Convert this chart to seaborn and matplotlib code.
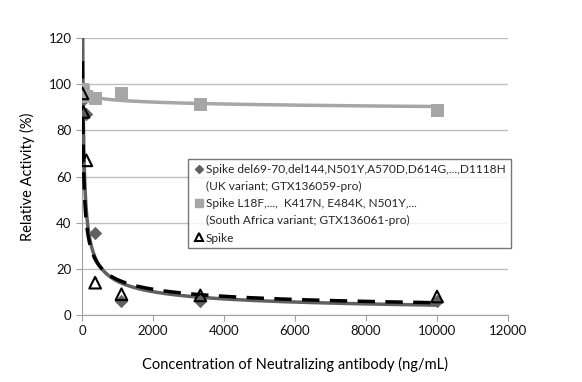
import numpy as np
import pandas as pd
import matplotlib
matplotlib.use("Agg")
import matplotlib.pyplot as plt
from matplotlib.lines import Line2D
import seaborn as sns

sns.set_style("white")
plt.rcParams['font.family'] = ['Lato', 'DejaVu Sans']

# concentrations (3-fold dilution series, ng/mL)
conc = [10000, 3333, 1111, 370, 123, 41, 13.7]

# relative activity (%)
uk_act = [6, 6, 6, 35.5, 87, 93, 96]
sa_act = [88.8, 91.4, 96.2, 94, 95, 97, 98]
spike_act = [8, 8.5, 9, 14, 67, 88, 96]

uk_label = ["Spike del69-70,del144,N501Y,A570D,D614G,...,D1118H",
            "(UK variant; GTX136059-pro)"]
sa_label = ["Spike L18F,...,  K417N, E484K, N501Y,...",
            "(South Africa variant; GTX136061-pro)"]
spike_label = ["Spike"]

uk_col = "#606060"
sa_col = "#a6a6a6"


def power_trend(x, y):
    # Excel-style power trendline: fit in log-log space
    b, ln_a = np.polyfit(np.log(x), np.log(y), 1)
    xs = np.geomspace(min(x), max(x), 400)
    return pd.DataFrame({"x": xs, "y": np.exp(ln_a) * xs ** b})


fig = plt.figure(figsize=(5.82, 3.82), dpi=100)
ax = fig.add_axes([0.1409, 0.1754, 0.7320, 0.7251])

uk_fit = power_trend(conc, uk_act)
sa_fit = power_trend(conc, sa_act)
spike_fit = power_trend(conc, spike_act)

sns.lineplot(data=sa_fit, x="x", y="y", ax=ax, color=sa_col, lw=2.5, zorder=2)
sns.lineplot(data=uk_fit, x="x", y="y", ax=ax, color=uk_col, lw=2.5, zorder=3)
sns.lineplot(data=spike_fit, x="x", y="y", ax=ax, color="black", lw=2.5,
             dashes=False, zorder=4).lines[-1].set_dashes([5, 3])

sns.scatterplot(x=conc, y=uk_act, ax=ax, marker="D", s=40, color=uk_col,
                edgecolor=uk_col, zorder=5, legend=False)
sns.scatterplot(x=conc, y=sa_act, ax=ax, marker="s", s=75, color=sa_col,
                edgecolor=sa_col, zorder=5, legend=False)
sns.scatterplot(x=conc, y=spike_act, ax=ax, marker="^", s=70, facecolor="none",
                edgecolor="black", linewidth=1.5, zorder=6, legend=False)

ax.set_xlim(0, 12000)
ax.set_ylim(0, 120)
ax.set_xticks(range(0, 12001, 2000))
ax.set_yticks(range(0, 121, 20))
ax.yaxis.grid(True, color="#bfbfbf", lw=1)
ax.set_axisbelow(True)
for s in ["top", "right"]:
    ax.spines[s].set_visible(False)
for s in ["left", "bottom"]:
    ax.spines[s].set_color("#a0a0a0")
ax.tick_params(axis="both", direction="out", length=4, color="#a0a0a0",
               labelsize=9.5, labelcolor="#111111")
ax.tick_params(axis="both", which="both", left=True, bottom=True)

ax.set_xlabel("Concentration of Neutralizing antibody (ng/mL)", fontsize=10.5,
              labelpad=14, color="black")
ax.set_ylabel("Relative Activity (%)", fontsize=10.5, labelpad=10, color="black")

# legend: marker on first line of each entry, continuation lines indented
blank = Line2D([], [], linestyle="none", marker=None)
handles = [
    Line2D([], [], linestyle="none", marker="D", markersize=4.5, color=uk_col),
    blank,
    Line2D([], [], linestyle="none", marker="s", markersize=6, color=sa_col),
    blank,
    Line2D([], [], linestyle="none", marker="^", markersize=6,
           markerfacecolor="none", markeredgecolor="black", markeredgewidth=1.5),
]
labels = uk_label + sa_label + spike_label
leg = ax.legend(handles, labels, loc="upper left", bbox_to_anchor=(0.235, 0.585),
                fontsize=8.6, frameon=True, fancybox=False, handletextpad=0.1,
                borderpad=0.4, labelspacing=0.52, handlelength=1.0)
leg.get_frame().set_edgecolor("#555555")
leg.get_frame().set_linewidth(1)

fig.savefig("out.png", dpi=100)
